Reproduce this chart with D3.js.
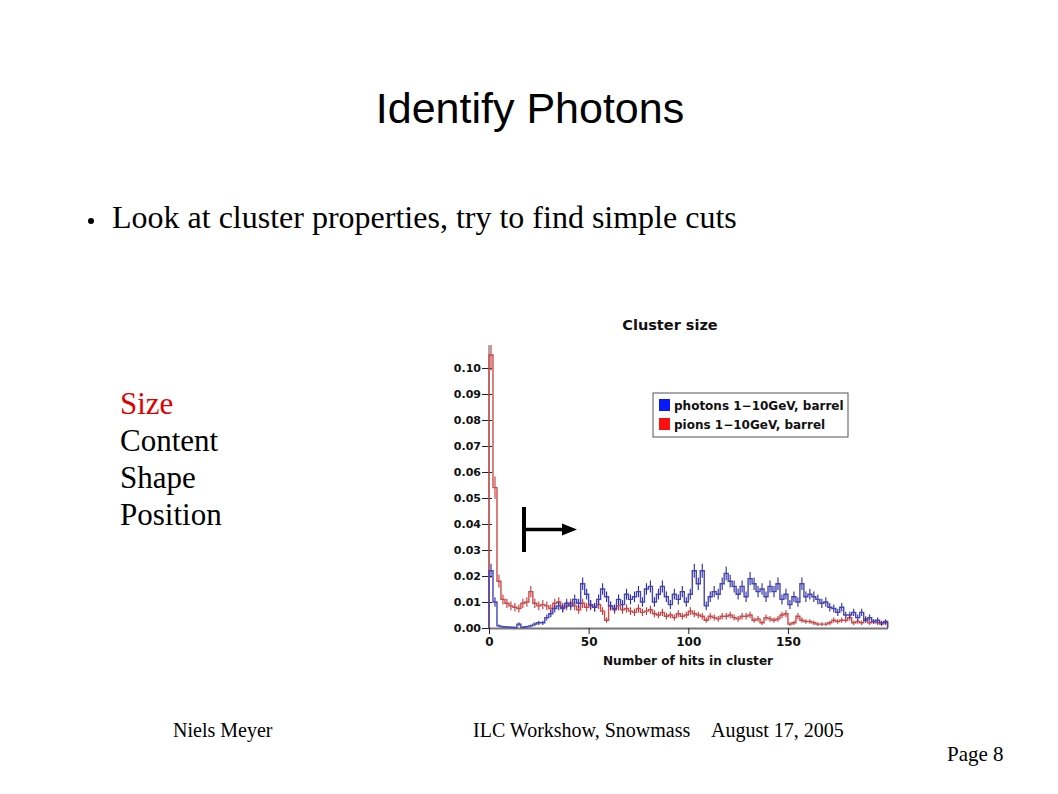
<!DOCTYPE html>
<html>
<head>
<meta charset="utf-8">
<script src="https://cdn.jsdelivr.net/npm/d3@7"></script>
<style>
  html, body { margin: 0; padding: 0; background: #ffffff; }
  svg { display: block; }
</style>
</head>
<body>
<svg id="slide" width="1058" height="794"></svg>
<script>
// ---------------- DATA ----------------
const binWidth = 2;
const binStarts = d3.range(0, 200, 2);

const photons = [
  0.022, 0.010, 0.0008, 0.0005, 0.0004, 0.0003, 0.0002, 0.0015, 0.0003, 0.0005,
  0.0008, 0.0015, 0.002, 0.002, 0.004, 0.0055, 0.0075, 0.0085, 0.0075, 0.0095,
  0.0085, 0.011, 0.0095, 0.017, 0.013, 0.009, 0.008, 0.011, 0.015, 0.012,
  0.0085, 0.0075, 0.011, 0.009, 0.013, 0.011, 0.012, 0.014, 0.010, 0.015,
  0.016, 0.010, 0.013, 0.016, 0.012, 0.009, 0.013, 0.011, 0.014, 0.010,
  0.013, 0.022, 0.017, 0.022, 0.0085, 0.012, 0.014, 0.013, 0.017, 0.021,
  0.018, 0.016, 0.013, 0.016, 0.012, 0.019, 0.017, 0.014, 0.015, 0.012,
  0.016, 0.014, 0.017, 0.011, 0.013, 0.009, 0.012, 0.010, 0.017, 0.012,
  0.013, 0.012, 0.011, 0.0095, 0.010, 0.008, 0.0075, 0.006, 0.008, 0.005,
  0.005, 0.006, 0.004, 0.006, 0.003, 0.004, 0.0025, 0.003, 0.002, 0.0025
];

const pions = [
  0.105, 0.054, 0.018, 0.011, 0.0095, 0.0085, 0.008, 0.0075, 0.0095, 0.010,
  0.014, 0.0095, 0.0085, 0.009, 0.0085, 0.0075, 0.0095, 0.010, 0.008, 0.0085,
  0.0095, 0.0085, 0.007, 0.0095, 0.008, 0.0085, 0.008, 0.009, 0.0065, 0.003,
  0.0085, 0.007, 0.0085, 0.007, 0.0075, 0.0065, 0.006, 0.0075, 0.006, 0.0065,
  0.007, 0.0055, 0.005, 0.006, 0.0045, 0.005, 0.004, 0.0055, 0.0045, 0.005,
  0.0065, 0.0055, 0.005, 0.0045, 0.003, 0.0045, 0.004, 0.0035, 0.0045, 0.0045,
  0.005, 0.004, 0.0035, 0.0045, 0.0045, 0.005, 0.003, 0.0035, 0.002, 0.004,
  0.0035, 0.003, 0.0035, 0.005, 0.0055, 0.0015, 0.002, 0.0045, 0.003, 0.0025,
  0.0025, 0.002, 0.0015, 0.0015, 0.0015, 0.002, 0.003, 0.0025, 0.003, 0.003,
  0.004, 0.002, 0.0025, 0.002, 0.0035, 0.002, 0.0025, 0.002, 0.0015, 0.002
];

const yTicks = [0.00, 0.01, 0.02, 0.03, 0.04, 0.05, 0.06, 0.07, 0.08, 0.09, 0.10];
const xTicks = [0, 50, 100, 150];
const seriesNames = ["photons 1\u221210GeV, barrel", "pions 1\u221210GeV, barrel"];
const listItems = ["Size", "Content", "Shape", "Position"];
const nEntries = 3000; // normalisation used for statistical error bars

// ---------------- SLIDE TEXT ----------------
const svg = d3.select("#slide");
svg.append("rect").attr("width", 1058).attr("height", 794).attr("fill", "#fff");

const serif = "'Liberation Serif', 'Times New Roman', serif";

svg.append("text").attr("x", 530).attr("y", 123)
  .attr("text-anchor", "middle")
  .attr("font-family", "'Liberation Sans', Arial, sans-serif")
  .attr("font-size", 43).attr("fill", "#000")
  .text("Identify Photons");

svg.append("circle").attr("cx", 91).attr("cy", 221).attr("r", 3).attr("fill", "#000");
svg.append("text").attr("x", 112).attr("y", 228)
  .attr("font-family", serif)
  .attr("font-size", 32).attr("fill", "#000")
  .text("Look at cluster properties, try to find simple cuts");

svg.selectAll("text.item").data(listItems).enter().append("text")
  .attr("class", "item")
  .attr("x", 120).attr("y", (d, i) => 414 + i * 37)
  .attr("font-family", serif)
  .attr("font-size", 31)
  .attr("fill", (d, i) => i === 0 ? "#e00000" : "#000")
  .text(d => d);

[["Niels Meyer", 173, 737, 20], ["ILC Workshow, Snowmass", 473, 737, 20],
 ["August 17, 2005", 711, 737, 20], ["Page 8", 947, 761, 21]].forEach(([t, x, y, s]) => {
  svg.append("text").attr("x", x).attr("y", y)
    .attr("font-family", serif).attr("font-size", s).attr("fill", "#000").text(t);
});

// ---------------- CHART ----------------
const chartFont = "'DejaVu Sans', Verdana, sans-serif";
const x = d3.scaleLinear().domain([0, 200]).range([489, 887.6]);
const y = d3.scaleLinear().domain([0, 0.10]).range([628, 368]);
const yTop = 0.1088;

const g = svg.append("g");

g.append("defs").append("clipPath").attr("id", "plotclip")
  .append("rect").attr("x", x(0) - 3).attr("y", y(yTop))
  .attr("width", x(200) - x(0) + 6).attr("height", y(0) - y(yTop) + 2);

// title
g.append("text").attr("x", 670).attr("y", 330)
  .attr("text-anchor", "middle").attr("font-family", chartFont)
  .attr("font-weight", "bold").attr("font-size", 14.5).attr("fill", "#111")
  .text("Cluster size");

// y axis
g.append("line").attr("x1", x(0)).attr("x2", x(0))
  .attr("y1", y(0)).attr("y2", y(yTop)).attr("stroke", "#555").attr("stroke-width", 1);
const yAxis = d3.axisLeft(y).tickValues(yTicks).tickFormat(d3.format(".2f"))
  .tickSizeInner(7).tickSizeOuter(0).tickPadding(2);
const yg = g.append("g").attr("transform", `translate(${x(0) + 2},0)`).call(yAxis);
yg.select(".domain").remove();
yg.selectAll(".tick line").attr("stroke", "#222").attr("x2", -9).attr("x1", 1);
yg.selectAll(".tick text").attr("font-family", chartFont).attr("font-weight", "bold")
  .attr("font-size", 11).attr("fill", "#111").attr("x", -10);

// x axis
const xAxis = d3.axisBottom(x).tickValues(xTicks).tickFormat(d3.format("d"))
  .tickSizeInner(6).tickSizeOuter(0).tickPadding(3);
const xg = g.append("g").attr("transform", `translate(0,${y(0)})`).call(xAxis);
xg.select(".domain").attr("stroke", "#777").attr("stroke-width", 2.2);
xg.selectAll(".tick line").attr("stroke", "#222");
xg.selectAll(".tick text").attr("font-family", chartFont).attr("font-weight", "bold")
  .attr("font-size", 12).attr("fill", "#111");

g.append("text").attr("x", 688).attr("y", 665)
  .attr("text-anchor", "middle").attr("font-family", chartFont)
  .attr("font-weight", "bold").attr("font-size", 12.1).attr("fill", "#111")
  .text("Number of hits in cluster");

// histograms
const plot = g.append("g").attr("clip-path", "url(#plotclip)");
function drawHist(values, lineColor, errColor) {
  const pts = [[0, 0]];
  values.forEach((v, i) => pts.push([binStarts[i], v]));
  pts.push([binStarts[binStarts.length - 1] + binWidth, values[values.length - 1]]);
  pts.push([binStarts[binStarts.length - 1] + binWidth, 0]);
  const line = d3.line().x(d => x(d[0])).y(d => y(d[1])).curve(d3.curveStepAfter);

  plot.append("g").selectAll("line").data(values).enter().append("line")
    .attr("x1", (d, i) => x(binStarts[i] + binWidth / 2))
    .attr("x2", (d, i) => x(binStarts[i] + binWidth / 2))
    .attr("y1", d => y(Math.max(0, d - Math.sqrt(d / nEntries))))
    .attr("y2", d => y(d + Math.sqrt(d / nEntries)))
    .attr("stroke", errColor).attr("stroke-width", 1.1);

  plot.append("path").attr("d", line(pts))
    .attr("fill", "none").attr("stroke", lineColor).attr("stroke-width", 1.4);
}
drawHist(pions, "#cc4a4a", "#c23434");
drawHist(photons, "#4444b6", "#2a2aa0");

// legend
const lg = g.append("g").attr("transform", "translate(653,393)");
lg.append("rect").attr("width", 195).attr("height", 44)
  .attr("fill", "#fff").attr("stroke", "#555").attr("stroke-width", 1);
const legendColors = ["#0a1aff", "#ff1010"];
seriesNames.forEach((n, i) => {
  lg.append("rect").attr("x", 6).attr("y", 6 + i * 19).attr("width", 11).attr("height", 12)
    .attr("fill", legendColors[i]);
  lg.append("text").attr("x", 21).attr("y", 16.5 + i * 19)
    .attr("font-family", chartFont).attr("font-weight", "bold")
    .attr("font-size", 12).attr("fill", "#111").text(n);
});

// arrow annotation
svg.append("line").attr("x1", 524).attr("x2", 524).attr("y1", 507).attr("y2", 552)
  .attr("stroke", "#000").attr("stroke-width", 4);
svg.append("line").attr("x1", 524).attr("x2", 564).attr("y1", 529.5).attr("y2", 529.5)
  .attr("stroke", "#000").attr("stroke-width", 3.5);
svg.append("path").attr("d", "M562,523.5 L577,529.5 L562,535.5 Z").attr("fill", "#000");
</script>
</body>
</html>
